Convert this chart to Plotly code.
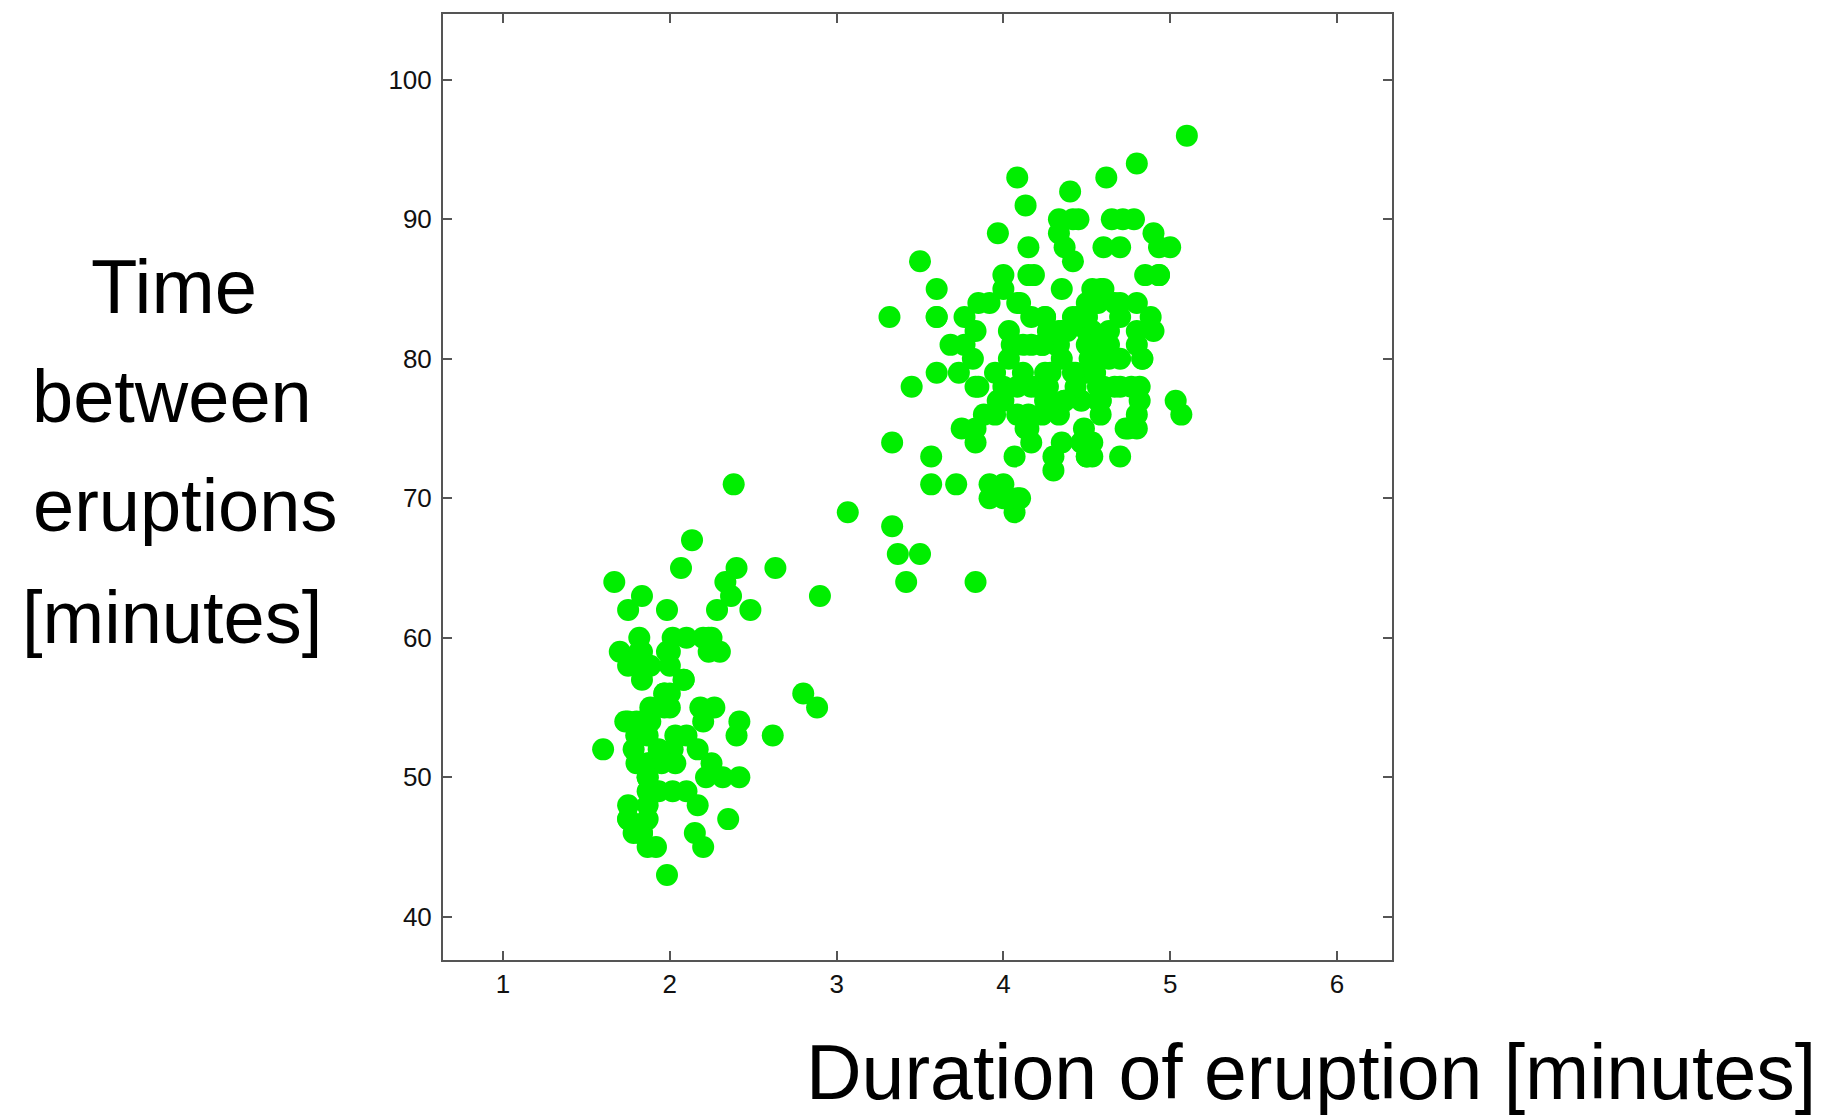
import plotly.graph_objects as go

# Old Faithful data: eruption duration [min] and waiting time [min]
eruptions = [3.600, 1.800, 3.333, 2.283, 4.533, 2.883, 4.700, 3.600, 1.950, 4.350,
             1.833, 3.917, 4.200, 1.750, 4.700, 2.167, 1.750, 4.800, 1.600, 4.250,
             1.800, 1.750, 3.450, 3.067, 4.533, 3.600, 1.967, 4.083, 3.850, 4.433,
             4.300, 4.467, 3.367, 4.033, 3.833, 2.017, 1.867, 4.833, 1.833, 4.783,
             4.350, 1.883, 4.567, 1.750, 4.533, 3.317, 3.833, 2.100, 4.633, 2.000,
             4.800, 4.716, 1.833, 4.833, 1.733, 4.883, 3.717, 1.667, 4.567, 4.317,
             2.233, 4.500, 1.750, 4.800, 1.817, 4.400, 4.167, 4.700, 2.067, 4.700,
             4.033, 1.967, 4.500, 4.000, 1.983, 5.067, 2.017, 4.567, 3.883, 3.600,
             4.133, 4.333, 4.100, 2.633, 4.067, 4.933, 3.950, 4.517, 2.167, 4.000,
             2.200, 4.333, 1.867, 4.817, 1.833, 4.300, 4.667, 3.750, 1.867, 4.900,
             2.483, 4.367, 2.100, 4.500, 4.050, 1.867, 4.700, 1.783, 4.850, 3.683,
             4.733, 2.300, 4.900, 4.417, 1.700, 4.633, 2.317, 4.600, 1.817, 4.417,
             2.617, 4.067, 4.250, 1.967, 4.600, 3.767, 1.917, 4.500, 2.267, 4.650,
             1.867, 4.167, 2.800, 4.333, 1.833, 4.383, 1.883, 4.933, 2.033, 3.733,
             4.233, 2.233, 4.533, 4.817, 4.333, 1.983, 4.633, 2.017, 5.100, 1.800,
             5.033, 4.000, 2.400, 4.600, 3.567, 4.000, 4.500, 4.083, 1.800, 3.967,
             2.200, 4.150, 2.000, 3.833, 3.500, 4.583, 2.367, 5.000, 1.933, 4.617,
             1.917, 2.083, 4.583, 3.333, 4.167, 4.333, 4.500, 2.417, 4.000, 4.167,
             1.883, 4.583, 4.250, 3.767, 2.033, 4.433, 4.083, 1.833, 4.417, 2.183,
             4.800, 1.833, 4.800, 4.100, 3.966, 4.233, 3.500, 4.366, 2.250, 4.667,
             2.100, 4.350, 4.133, 1.867, 4.600, 1.783, 4.367, 3.850, 1.933, 4.500,
             2.383, 4.700, 1.867, 3.833, 3.417, 4.233, 2.400, 4.800, 2.000, 4.150,
             1.867, 4.267, 1.750, 4.483, 4.000, 4.117, 4.083, 4.267, 3.917, 4.550,
             4.083, 2.417, 4.183, 2.217, 4.450, 1.883, 1.850, 4.283, 3.950, 2.333,
             4.150, 2.350, 4.933, 2.900, 4.583, 3.833, 2.083, 4.367, 2.133, 4.350,
             2.200, 4.450, 3.567, 4.500, 4.150, 3.817, 3.917, 4.450, 2.000, 4.283,
             4.767, 4.533, 1.850, 4.250, 1.983, 2.250, 4.750, 4.117, 2.150, 4.417,
             1.817, 4.467]
waiting = [79, 54, 74, 62, 85, 55, 88, 85, 51, 85, 54, 84, 78, 47, 83, 52, 62, 84, 52, 79,
           51, 47, 78, 69, 74, 83, 55, 76, 78, 79, 73, 77, 66, 80, 74, 52, 48, 80, 59, 90,
           80, 58, 84, 58, 73, 83, 64, 53, 82, 59, 75, 90, 54, 80, 54, 83, 71, 64, 77, 81,
           59, 84, 48, 82, 60, 92, 78, 78, 65, 73, 82, 56, 79, 71, 62, 76, 60, 78, 76, 83,
           75, 82, 70, 65, 73, 88, 76, 80, 48, 86, 60, 90, 50, 78, 63, 72, 84, 75, 51, 82,
           62, 88, 49, 83, 81, 47, 84, 52, 86, 81, 75, 59, 89, 79, 59, 81, 50, 85, 59, 87,
           53, 69, 77, 56, 88, 81, 45, 82, 55, 90, 45, 83, 56, 89, 46, 82, 51, 86, 53, 79,
           81, 60, 82, 77, 76, 59, 80, 49, 96, 53, 77, 77, 65, 81, 71, 70, 81, 93, 53, 89,
           45, 86, 58, 78, 66, 76, 63, 88, 52, 93, 49, 57, 77, 68, 81, 81, 73, 50, 85, 74,
           55, 77, 83, 83, 51, 78, 84, 46, 83, 55, 81, 57, 76, 84, 77, 81, 87, 77, 51, 78,
           60, 82, 91, 53, 78, 46, 77, 84, 49, 83, 71, 80, 49, 75, 64, 76, 53, 94, 55, 76,
           50, 82, 54, 75, 78, 79, 78, 78, 70, 79, 70, 54, 86, 50, 90, 54, 54, 77, 79, 64,
           75, 47, 86, 63, 85, 82, 57, 82, 67, 74, 54, 83, 73, 73, 88, 80, 71, 83, 56, 79,
           78, 84, 58, 83, 43, 60, 75, 81, 46, 90, 46, 74]

x_ticks = [1, 2, 3, 4, 5, 6]
y_ticks = [40, 50, 60, 70, 80, 90, 100]
x_title = "Duration of eruption [minutes]"
y_title_lines = ["Time", "between", "eruptions", "[minutes]"]

W, H = 1826, 1117
L, R, T, B = 443, 1392, 12, 960
pw, ph = R - L, B - T

def px(x):
    return (x - L) / pw

def py(y):
    return (B - y) / ph

fig = go.Figure()
fig.add_trace(go.Scatter(
    x=eruptions, y=waiting, mode="markers",
    marker=dict(size=22, color="#00ee00", line=dict(width=0)),
    showlegend=False, hoverinfo="x+y",
))

axis_common = dict(
    showgrid=False, zeroline=False, showline=True, linecolor="#555555", linewidth=2,
    mirror="allticks", ticks="inside", ticklen=9, tickwidth=1.5, tickcolor="#555555",
    tickfont=dict(family="Liberation Sans, Arial, sans-serif", size=26, color="#111111"),
)
fig.update_xaxes(range=[0.64, 6.33], tickvals=x_ticks, ticklabelstandoff=0, **axis_common)
fig.update_yaxes(range=[36.9, 104.72], tickvals=y_ticks, ticklabelstandoff=4, **axis_common)

title_font = dict(family="Liberation Sans, Arial, sans-serif", size=77, color="black")
annotations = [dict(
    text=x_title, xref="paper", yref="paper", x=px(1818), y=py(1072),
    xanchor="right", yanchor="middle", showarrow=False, font=title_font,
)]
y_centers = [285, 395, 505, 617]
x_centers = [174, 172, 185, 172]
y_sizes = [76, 74, 74, 74]
for line, xc, yc, fs in zip(y_title_lines, x_centers, y_centers, y_sizes):
    annotations.append(dict(
        text=line, xref="paper", yref="paper", x=px(xc), y=py(yc),
        xanchor="center", yanchor="middle", showarrow=False,
        font=dict(family="Liberation Sans, Arial, sans-serif", size=fs, color="black"),
    ))

fig.update_layout(
    width=W, height=H, autosize=False,
    margin=dict(l=L, r=W - R, t=T, b=H - B, pad=0),
    paper_bgcolor="white", plot_bgcolor="white",
    annotations=annotations,
)

fig.write_html("out.html", config={"displayModeBar": False})
